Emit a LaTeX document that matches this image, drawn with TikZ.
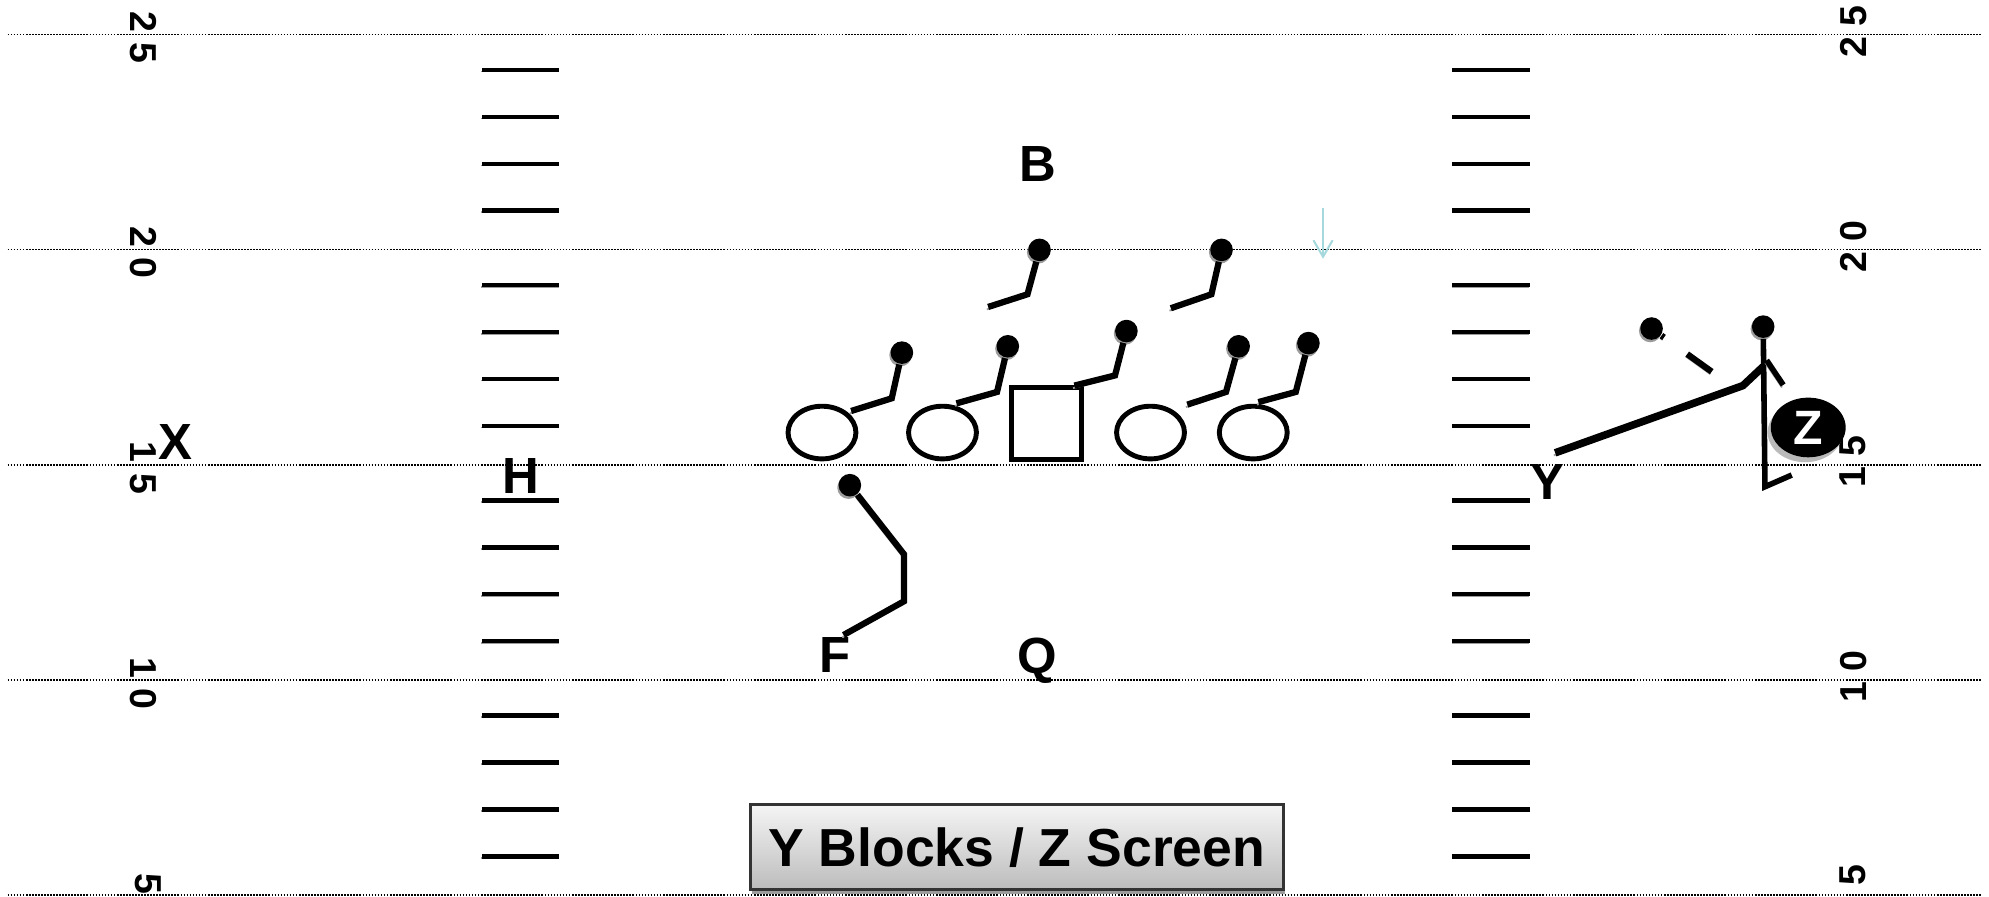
\documentclass[tikz,border=0pt]{standalone}
\usepackage{fontspec}
\setmainfont{Liberation Sans}
\usetikzlibrary{arrows.meta, shapes.geometric}
\definecolor{shgray}{HTML}{9C9C9C}
\definecolor{cue}{HTML}{A6D9DE}
\definecolor{boxtop}{HTML}{F5F5F5}
\definecolor{boxbot}{HTML}{BCBCBC}

\begin{document}
\begin{tikzpicture}[x=0.01cm, y=-0.01cm, >={Straight Barb[length=3.7pt, width=4.3pt]},
  yardln/.style={line width=0.38pt, dash pattern=on 0.38pt off 0.3pt},
  hashmk/.style={line width=1.05pt, preaction={draw=shgray, transform canvas={xshift=-0.15pt, yshift=-0.35pt}}},
  routeln/.style={line width=1.4pt, preaction={draw=shgray, transform canvas={xshift=-0.3pt, yshift=-0.55pt}}},
  dashrt/.style={line width=1.4pt, dash pattern=on 0.7pt off 6.4pt on 7pt off 20pt,
    preaction={draw=shgray, dash pattern=on 0.7pt off 6.4pt on 7pt off 20pt,
      transform canvas={xshift=-0.3pt, yshift=-0.55pt}}},
  zroute/.style={routeln, line width=1.25pt},
  blkdot/.style={circle, fill=black, inner sep=0pt, minimum size=0.178cm,
    preaction={fill=shgray, transform canvas={xshift=-0.3pt, yshift=-0.55pt}}},
  olman/.style={ellipse, draw, line width=1.1pt, inner sep=0pt, minimum width=0.535cm, minimum height=0.415cm},
  ctrman/.style={rectangle, draw, line width=1.1pt, inner sep=0pt, minimum width=0.545cm, minimum height=0.565cm},
  zcirc/.style={ellipse, fill=black, text=white, inner sep=0pt, minimum width=0.59cm, minimum height=0.47cm,
    font=\fontsize{10.8}{12}\selectfont\bfseries,
    preaction={fill=shgray!70, transform canvas={xshift=-0.7pt, yshift=-1.1pt}}},
  lbl/.style={font=\fontsize{11.4}{13}\selectfont\bfseries, inner sep=0pt, anchor=base},
  ydnum/.style={font=\fontsize{8.4}{10}\selectfont\bfseries, inner sep=0pt},
  titlebox/.style={draw=black!80, line width=0.6pt, top color=boxtop, bottom color=boxbot,
    minimum width=4.2cm, minimum height=0.67cm, inner sep=0pt, text depth=0pt,
    font=\fontsize{12}{14}\selectfont\bfseries,
    preaction={fill=shgray, transform canvas={xshift=0.3pt, yshift=-1pt}}}]

% Background
\useasboundingbox (0,0) rectangle (1568,707);
\fill[white] (0,0) rectangle (1568,707);

% Yard lines
\foreach \yl in {27.2, 196.8, 366.4, 536, 705.6}
  \draw[yardln] (6,\yl) -- (1562,\yl);

% Hash marks
\foreach \yl in {27.2, 196.8, 366.4, 536} {
  \foreach \dy in {28, 65, 102, 139} {
    \draw[hashmk] (380,\yl+\dy) -- (441,\yl+\dy);
    \draw[hashmk] (1145,\yl+\dy) -- (1206,\yl+\dy);
  }
}

% Yard numbers
\node[ydnum, rotate=-90] (nl25) at (113,29.7) {2 5};
\node[ydnum, rotate=-90] (nl20) at (113,199.3) {2 0};
\node[ydnum, rotate=-90] (nl15) at (113,368.9) {1 5};
\node[ydnum, rotate=-90] (nl10) at (113,538.5) {1 0};
\node[ydnum, rotate=-90] (nl5) at (117,697) {5};
\node[ydnum, rotate=90] (nr25) at (1461,24.7) {2 5};
\node[ydnum, rotate=90] (nr20) at (1461,194.3) {2 0};
\node[ydnum, rotate=90] (nr15) at (1461,363.9) {1 5};
\node[ydnum, rotate=90] (nr10) at (1461,533.5) {1 0};
\node[ydnum, rotate=90] (nr5) at (1461,690) {5};

% Offensive line
\node[olman] (lt) at (648,341) {};
\node[olman] (lg) at (743,341) {};
\node[ctrman] (ctr) at (825,334) {};
\node[olman] (rg) at (907,341) {};
\node[olman] (rt) at (988,341) {};

% Players
\node[lbl] (labB) at (818.5,143) {B};
\node[lbl] (labX) at (138,362.6) {X};
\node[lbl] (labH) at (410.5,388.7) {H};
\node[lbl] (labY) at (1220,394) {Y};
\node[lbl] (labF) at (658.6,530.5) {F};
\node[lbl] (labQ) at (818,531) {Q};
\node[zcirc] (zman) at (1425.5,337) {Z};

% Blocks
\node[blkdot] (blk1) at (819.5,197) {};
\node[blkdot] (blk2) at (963,197) {};
\node[blkdot] (blk3) at (711,278) {};
\node[blkdot] (blk4) at (794.5,273) {};
\node[blkdot] (blk5) at (888,261) {};
\node[blkdot] (blk6) at (976.5,273) {};
\node[blkdot] (blk7) at (1031.5,270.5) {};
\coordinate (b1) at (810,232);    \coordinate (e1) at (779,242);
\coordinate (b2) at (955,232);    \coordinate (e2) at (923,243);
\coordinate (b3) at (703,314);    \coordinate (e3) at (671,324);
\coordinate (b4) at (786,309);    \coordinate (e4) at (754,318);
\coordinate (b5) at (879,296);    \coordinate (e5) at (847,304);
\coordinate (b6) at (966.5,309);  \coordinate (e6) at (936,319);
\coordinate (b7) at (1021.5,309); \coordinate (e7) at (992,317);
\draw[routeln] (e1) -- (b1) -- (blk1);
\draw[routeln] (e2) -- (b2) -- (blk2);
\draw[routeln] (e3) -- (b3) -- (blk3);
\draw[routeln] (e4) -- (b4) -- (blk4);
\draw[routeln] (e5) -- (b5) -- (blk5);
\draw[routeln] (e6) -- (b6) -- (blk6);
\draw[routeln] (e7) -- (b7) -- (blk7);

% F block
\node[blkdot] (fblk) at (670,382.5) {};
\coordinate (fb1) at (712.7,437);
\coordinate (fb2) at (712.7,474);
\coordinate (fe) at (665,500.6);
\draw[routeln] (fe) -- (fb2) -- (fb1) -- (fblk);

% Read cue
\coordinate (cue1) at (1043,164);
\coordinate (cue2) at (1043,204);
\draw[->, cue, line width=0.45pt] (cue1) -- (cue2);

% Dashed route
\node[blkdot] (tdot) at (1302,259) {};
\coordinate (tend) at (1349.4,293);
\draw[dashrt] (tdot) -- (tend);

% Z screen
\node[blkdot] (zend) at (1390,257.5) {};
\coordinate (zs) at (1412.5,374.5);
\coordinate (zb) at (1391.4,383.7);
\draw[zroute] (zs) -- (zb) -- (zend);
\coordinate (zw1) at (1392.7,284);
\coordinate (zw2) at (1405.8,303.5);
\draw[zroute] (zw1) -- (zw2);

% Y block
\coordinate (ys) at (1226,357);
\coordinate (yb) at (1374,304);
\coordinate (yj) at (1390,289);
\draw[routeln, line width=1.7pt] (ys) -- (yb) -- (yj);

% Title
\node[titlebox] (title) at (801.5,667.5) {Y Blocks / Z Screen};

\end{tikzpicture}
\end{document}
